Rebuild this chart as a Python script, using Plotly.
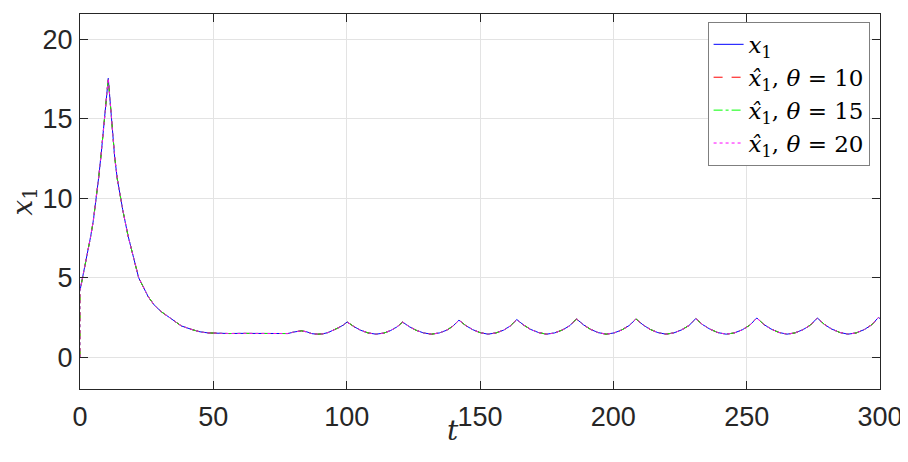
import plotly.graph_objects as go

# time samples
t = [0, 0.5, 1, 2, 3, 4, 5, 6, 7, 8, 9, 10, 10.6, 11.2, 12, 13, 14, 15, 16, 18, 20, 22,
     25.6, 28, 30.6, 35.6, 38, 42, 45, 48, 52, 56, 60, 65, 70, 73, 76, 78, 80, 83, 85, 87,
     89, 91, 93, 95, 97, 98.7,
     100.2, 102.7, 105.2, 108, 111, 114, 116.5, 118.8,
     121, 123.5, 126, 128.8, 131.8, 134.8, 137.5, 139.8,
     142.1, 144.6, 147.2, 150, 153, 156, 158.8, 161.3,
     163.8, 166.4, 169, 172, 175, 178, 181, 183.7,
     186.2, 188.8, 191.4, 194.3, 197.3, 200.3, 203.2, 206,
     208.5, 211.1, 213.7, 216.7, 219.7, 222.7, 225.6, 228.4,
     230.9, 233.5, 236.2, 239.2, 242.3, 245.4, 248.4, 251.2,
     253.8, 256.4, 259.1, 262.1, 265.1, 268.1, 271.1, 273.9,
     276.5, 279.1, 281.8, 284.9, 288, 291.1, 294.1, 296.9,
     299.4, 300]

# true state x1
x1 = [4.2, 4.6, 5.0, 5.9, 6.7, 7.6, 8.6, 9.8, 11.3, 12.9, 14.7, 16.4, 17.55, 16.3, 14.4, 12.6,
      11.2, 10.1, 9.3, 7.65, 6.3, 5.0,
      3.8, 3.25, 2.85, 2.22, 1.97, 1.74, 1.6, 1.53, 1.5, 1.49, 1.5, 1.5, 1.5, 1.5, 1.47, 1.49,
      1.58, 1.66, 1.6, 1.48, 1.45, 1.47, 1.55, 1.68, 1.86, 2.02,
      2.22, 1.93, 1.70, 1.53, 1.45, 1.52, 1.68, 1.90,
      2.21, 1.92, 1.70, 1.53, 1.45, 1.53, 1.70, 1.95,
      2.33, 2.00, 1.74, 1.55, 1.45, 1.53, 1.70, 1.96,
      2.37, 2.02, 1.75, 1.55, 1.45, 1.53, 1.72, 1.99,
      2.41, 2.04, 1.76, 1.55, 1.45, 1.53, 1.72, 2.00,
      2.41, 2.04, 1.76, 1.55, 1.45, 1.53, 1.72, 2.00,
      2.43, 2.05, 1.77, 1.55, 1.45, 1.53, 1.73, 2.02,
      2.47, 2.07, 1.78, 1.56, 1.45, 1.53, 1.73, 2.02,
      2.47, 2.07, 1.78, 1.56, 1.45, 1.53, 1.74, 2.04,
      2.50, 2.43]

# observer estimates start from zero
est_t0 = 0.0
est_x0 = 0.0
thetas = [10, 15, 20]

x_ticks = [0, 50, 100, 150, 200, 250, 300]
y_ticks = [0, 5, 10, 15, 20]

fig = go.Figure()
fig.add_trace(go.Scatter(x=t, y=x1, mode="lines", name="<i>x</i><sub>1</sub>",
                         line=dict(color="#0000ff", width=1)))

styles = [("#ff0000", "dash"), ("#00ff00", "dashdot"), ("#ff00ff", "dot")]
for th, (col, dash) in zip(thetas, styles):
    fig.add_trace(go.Scatter(
        x=[est_t0] + t, y=[est_x0] + x1, mode="lines",
        name=f"<i>x\u0302</i><sub>1</sub>, <i>\u03b8</i> = {th}",
        line=dict(color=col, width=1, dash=dash)))

axis_common = dict(showline=True, linecolor="#262626", linewidth=1, mirror="ticks",
                   ticks="inside", ticklen=8, tickcolor="#262626", automargin=False,
                   showgrid=True, gridcolor="#e3e3e3", gridwidth=1, zeroline=False,
                   tickfont=dict(family="Liberation Sans, Arial", size=27, color="#262626"))

# the page body adds an 8 px offset, so the figure is 8 px smaller and margins shifted
fig.update_layout(
    width=900, height=454,
    margin=dict(l=72, r=28, t=6, b=73),
    plot_bgcolor="white", paper_bgcolor="white",
    showlegend=True,
    legend=dict(x=0.987, y=0.979, xanchor="right", yanchor="top",
                bgcolor="white", bordercolor="#7f7f7f", borderwidth=1,
                font=dict(family="DejaVu Serif, serif", size=23, color="black"),
                itemwidth=30, tracegroupgap=0),
    xaxis=dict(range=[0, 300], tickvals=x_ticks, ticklabelstandoff=4, **axis_common),
    yaxis=dict(range=[-2, 21.6], tickvals=y_ticks, ticklabelstandoff=1, **axis_common),
    annotations=[
        dict(text="<i>t</i>", xref="paper", yref="paper", x=0.466, y=-0.11,
             xanchor="center", yanchor="middle", showarrow=False,
             font=dict(family="DejaVu Serif, serif", size=28, color="#262626")),
        dict(text="<i>x</i><sub>1</sub>", xref="paper", yref="paper", x=-0.07, y=0.5,
             xanchor="center", yanchor="middle", showarrow=False, textangle=-90,
             font=dict(family="DejaVu Serif, serif", size=28, color="#262626")),
    ],
)

fig.write_html("out.html")
